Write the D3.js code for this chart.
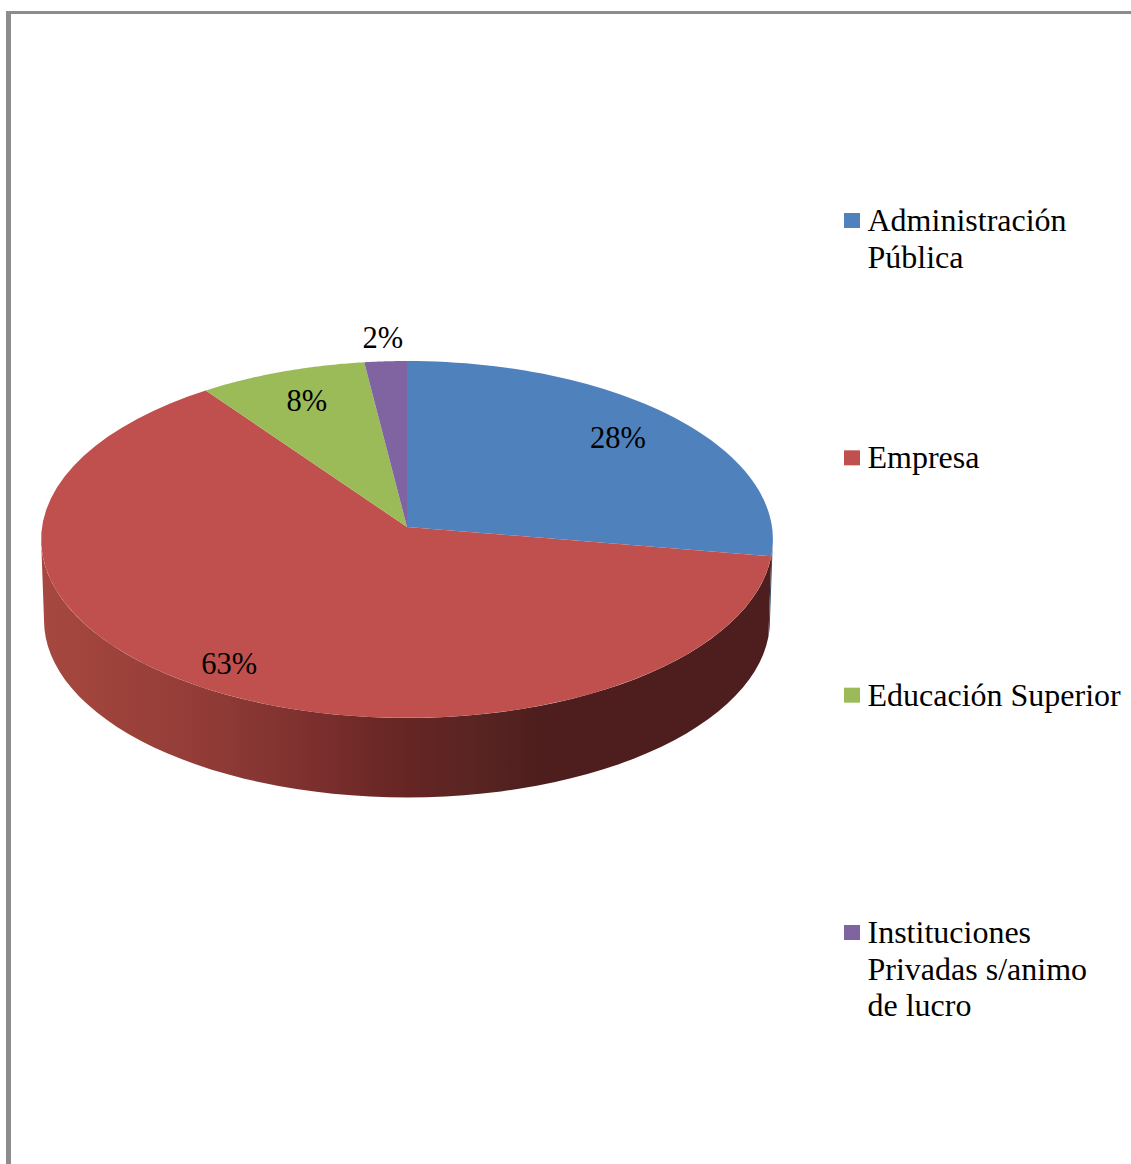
<!DOCTYPE html>
<html><head><meta charset="utf-8">
<script src="https://cdn.jsdelivr.net/npm/d3@7"></script>
<style>html,body{margin:0;padding:0;background:#fff}svg{display:block}text{font-family:"Liberation Serif",serif;fill:#000}</style>
</head><body><div id="c"></div>
<script>
const categories = ["Administración Pública", "Empresa", "Educación Superior", "Instituciones Privadas s/animo de lucro"];
const legendLines = [["Administración", "Pública"], ["Empresa"], ["Educación Superior"], ["Instituciones", "Privadas s/animo", "de lucro"]];
const values = [27.6, 62.5, 7.9, 2];
const colors = ["#4f81bd", "#c0504d", "#9bbb59", "#8064a2"];
const wallColors = ["#3a4f6a", "url(#wall)", "#5d7035", "#4d3c61"];
const labelReach = [0.785, 0.875, 0.79, 1.14];

const W = 1131, H = 1164;
const svg = d3.select("#c").append("svg").attr("width", W).attr("height", H);

// Frame
svg.append("rect").attr("x", 6).attr("y", 11).attr("width", 5).attr("height", H - 11).attr("fill", "#8c8c8c");
svg.append("rect").attr("x", 6).attr("y", 11).attr("width", W - 6).attr("height", 3).attr("fill", "#8c8c8c");

// Perspective projection of the disc
const cx = 407, topApex = 527, bottomApex = 608, c = 365, a = 177.6, b = 0.07, shrink = 0.992;
function project(theta, r, apexY, k) {
  const d = 1 + b * r * Math.cos(theta);
  return [cx + k * c * r * Math.sin(theta) / d, apexY - k * a * r * Math.cos(theta) / d];
}
const top3d = (t, r = 1) => project(t, r, topApex, 1);
const low3d = t => project(t, 1, bottomApex, shrink);
const line = d3.line();
const sample = (s, e) => d3.range(0, 61).map(i => s + (e - s) * i / 60);

const pie = d3.pie().sort(null).value(d => d);
const arcs = pie(values);

// Wall gradient
const stops = [[44,"#a6483f"],[200,"#933c37"],[300,"#7e312f"],[407,"#662523"],[470,"#5a2523"],[540,"#4d1e1d"],[770,"#4d1e1d"]];
const grad = svg.append("defs").append("linearGradient").attr("id", "wall")
  .attr("gradientUnits", "userSpaceOnUse").attr("x1", 44).attr("x2", 770).attr("y1", 0).attr("y2", 0);
stops.forEach(s => grad.append("stop").attr("offset", (s[0] - 44) / 726).attr("stop-color", s[1]));

// Visible wall range
const visS = Math.acos(-b), visE = 2 * Math.PI - visS;
svg.append("g").selectAll("path").data(arcs).join("path")
  .attr("d", d => {
    const s = Math.max(d.startAngle, visS), e = Math.min(d.endAngle, visE);
    if (e <= s) return null;
    return line(sample(s, e).map(t => top3d(t)).concat(sample(s, e).reverse().map(low3d))) + "Z";
  })
  .attr("fill", (d, i) => wallColors[i]);

// Top faces
svg.append("g").selectAll("path").data(arcs).join("path")
  .attr("d", d => line([[cx, topApex]].concat(sample(d.startAngle, d.endAngle).map(t => top3d(t)))) + "Z")
  .attr("fill", (d, i) => colors[i]);

// Data labels
const fmt = d3.format(".0f");
svg.append("g").selectAll("text").data(arcs).join("text")
  .attr("transform", (d, i) => "translate(" + top3d((d.startAngle + d.endAngle) / 2, labelReach[i]) + ")")
  .attr("text-anchor", "middle").attr("dy", "0.27em").attr("font-size", 30.5)
  .text(d => fmt(d.value) + "%");

// Legend
const legendY = d3.scalePoint().domain(categories).range([220.5, 932.5]);
const legend = svg.append("g").selectAll("g").data(categories).join("g")
  .attr("transform", d => "translate(844," + legendY(d) + ")");
legend.append("rect").attr("x", 0).attr("y", -7.5).attr("width", 16).attr("height", 15).attr("fill", (d, i) => colors[i]);
legend.append("text").attr("font-size", 32).selectAll("tspan").data((d, i) => legendLines[i]).join("tspan")
  .attr("x", 23.5).attr("y", (d, i) => 10.5 + i * 36.7).text(d => d);
</script></body></html>
